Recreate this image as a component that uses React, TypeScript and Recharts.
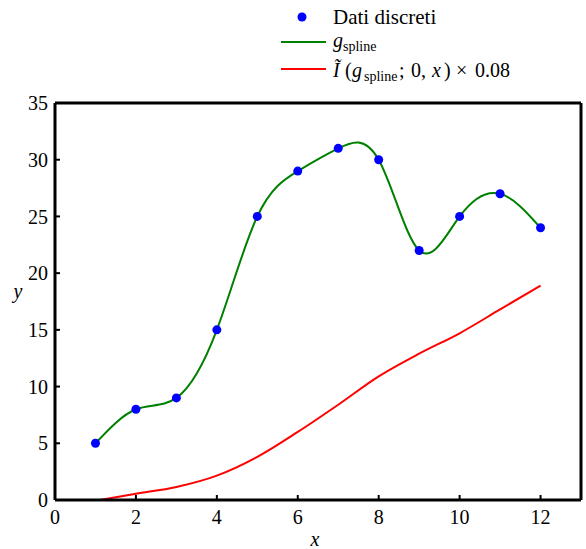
import React from 'react';
import { ComposedChart, Line, XAxis, YAxis, Legend, Label } from 'recharts';

const xValues = [1, 2, 3, 4, 5, 6, 7, 8, 9, 10, 11, 12];
const yValues = [5, 8, 9, 15, 25, 29, 31, 30, 22, 25, 27, 24];
const integralX = [1.1, 2, 3, 4, 5, 6, 7, 8, 9, 10, 11, 12];
const integralY = [0, 0.55, 1.15, 2.15, 3.8, 6.0, 8.4, 10.9, 12.9, 14.7, 16.8, 18.9];
const xTicks = [0, 2, 4, 6, 8, 10, 12];
const yTicks = [0, 5, 10, 15, 20, 25, 30, 35];

const discrete = xValues.map((x, i) => ({ x, y: yValues[i] }));
const integral = integralX.map((x, i) => ({ x, y: integralY[i] }));

const FONT = "'Liberation Serif'";

const LegendContent = () => (
  <div style={{ height: 0, position: 'relative' }}>
    <svg width={586} height={90} style={{ position: 'absolute', left: 0, top: 0, overflow: 'visible', fontFamily: FONT }}>
      <circle cx={302} cy={17} r={4.5} fill="#0000ff" />
      <text x={333} y={24} style={{ fontFamily: FONT, fontSize: 21 }} fill="#000">Dati discreti</text>
      <line x1={281} x2={326} y1={42} y2={42} stroke="#008000" strokeWidth={2} />
      <text x={333} y={47} style={{ fontFamily: FONT, fontSize: 20 }} fill="#000">
        <tspan fontStyle="italic">g</tspan>
        <tspan style={{ fontSize: 14 }} dy={4}>spline</tspan>
      </text>
      <line x1={281} x2={326} y1={69} y2={69} stroke="#ff0000" strokeWidth={2} />
      <text y={77} style={{ fontFamily: FONT, fontSize: 20 }} fill="#000">
        <tspan x={333} fontStyle="italic">Ĩ</tspan>
        <tspan x={345}>(</tspan>
        <tspan x={352} fontStyle="italic">g</tspan>
        <tspan x={364} style={{ fontSize: 14 }} dy={4}>spline</tspan>
        <tspan x={399} dy={-4}>;</tspan>
        <tspan x={411}>0,</tspan>
        <tspan x={432} fontStyle="italic">x</tspan>
        <tspan x={444}>)</tspan>
        <tspan x={456}>×</tspan>
        <tspan x={475}>0.08</tspan>
      </text>
    </svg>
  </div>
);

const tickStyle = { style: { fontFamily: FONT, fontSize: 20 }, fontSize: 20, fill: '#000' };
const axisLineStyle = { stroke: '#000', strokeWidth: 3 };
const tickLineStyle = { stroke: '#000', strokeWidth: 2 };

export default function App() {
  return (
    <div style={{ position: 'absolute', left: 0, top: 0, background: '#fff', fontFamily: FONT }}>
      <ComposedChart
        width={586}
        height={549}
        margin={{ top: 102, right: 4, bottom: 0, left: 0 }}
        style={{ fontFamily: FONT }}
      >
        <XAxis
          xAxisId="main"
          type="number"
          dataKey="x"
          domain={[0, 13]}
          ticks={xTicks}
          allowDataOverflow
          height={49}
          tick={tickStyle}
          tickSize={-5}
          tickMargin={15}
          axisLine={axisLineStyle}
          tickLine={tickLineStyle}
        >
          <Label
            content={({ viewBox }: any) => (
              <text
                x={viewBox.x + viewBox.width / 2 - 3}
                y={viewBox.y + 46}
                textAnchor="middle"
                style={{ fontFamily: FONT, fontSize: 20, fontStyle: 'italic' }}
                fill="#000"
              >
                x
              </text>
            )}
          />
        </XAxis>
        <XAxis
          xAxisId="top"
          orientation="top"
          type="number"
          dataKey="x"
          domain={[0, 13]}
          ticks={xTicks}
          allowDataOverflow
          height={1}
          tick={false}
          tickSize={-5}
          axisLine={axisLineStyle}
          tickLine={tickLineStyle}
        />
        <YAxis
          yAxisId="main"
          type="number"
          domain={[0, 35]}
          ticks={yTicks}
          allowDataOverflow
          width={55}
          tick={tickStyle}
          tickSize={-5}
          tickMargin={12}
          axisLine={axisLineStyle}
          tickLine={tickLineStyle}
        >
          <Label
            content={({ viewBox }: any) => (
              <text
                x={18}
                y={viewBox.y + viewBox.height / 2 - 4}
                textAnchor="middle"
                style={{ fontFamily: FONT, fontSize: 20, fontStyle: 'italic' }}
                fill="#000"
              >
                y
              </text>
            )}
          />
        </YAxis>
        <YAxis
          yAxisId="right"
          orientation="right"
          type="number"
          domain={[0, 35]}
          ticks={yTicks}
          allowDataOverflow
          width={1}
          tick={false}
          tickSize={-5}
          axisLine={axisLineStyle}
          tickLine={tickLineStyle}
        />
        <Legend content={<LegendContent />} wrapperStyle={{ top: 0, left: 0, width: 586, height: 0 }} />
        <Line
          xAxisId="top"
          yAxisId="right"
          data={discrete}
          dataKey="y"
          stroke="none"
          dot={false}
          activeDot={false}
          isAnimationActive={false}
          legendType="none"
        />
        <Line
          xAxisId="main"
          yAxisId="main"
          data={integral}
          dataKey="y"
          type="monotone"
          stroke="#ff0000"
          strokeWidth={2}
          dot={false}
          isAnimationActive={false}
          legendType="none"
        />
        <Line
          xAxisId="main"
          yAxisId="main"
          data={discrete}
          dataKey="y"
          stroke="none"
          dot={{ r: 4.5, fill: '#0000ff', stroke: 'none' }}
          activeDot={false}
          isAnimationActive={false}
          legendType="none"
        />
        <Line
          xAxisId="main"
          yAxisId="main"
          data={discrete}
          dataKey="y"
          type="natural"
          stroke="#008000"
          strokeWidth={2}
          dot={false}
          isAnimationActive={false}
          legendType="none"
        />
      </ComposedChart>
    </div>
  );
}
